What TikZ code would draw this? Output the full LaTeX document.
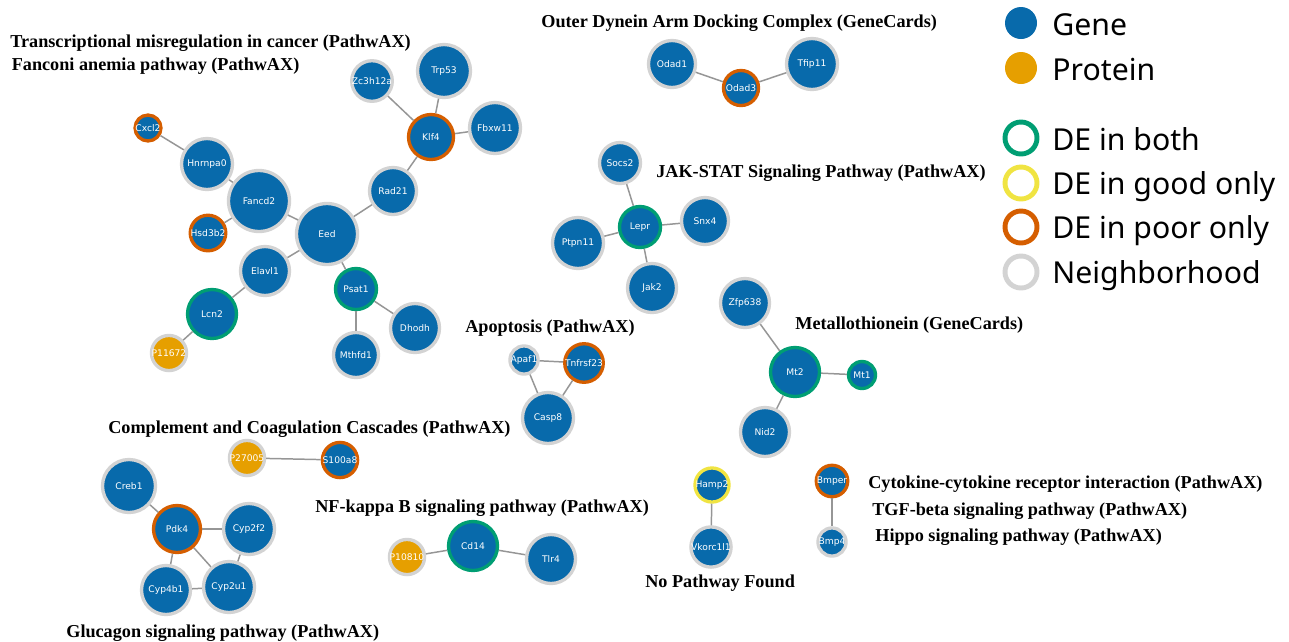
\documentclass[tikz,border=0pt]{standalone}
\usepackage{fontspec}
\setmainfont{Liberation Serif}
\newfontfamily\legendfont{Noto Sans}
\newfontfamily\genefont{DejaVu Sans}

\definecolor{geneblue}{RGB}{8,106,171}
\definecolor{protorange}{RGB}{230,159,0}
\definecolor{deboth}{RGB}{0,158,115}
\definecolor{degood}{RGB}{240,228,66}
\definecolor{depoor}{RGB}{213,94,0}
\definecolor{nbgrey}{RGB}{211,211,211}
\definecolor{edgegrey}{RGB}{150,150,150}

\tikzset{
    dia/.style={minimum size=#1*0.2mm},
    gn/.style={circle, fill=geneblue, text=white, inner sep=0pt, line width=1.9pt,
        font=\genefont\fontsize{5.2}{5.2}\selectfont},
    pr/.style={gn, fill=protorange},
    ringnb/.style={draw=nbgrey},
    ringboth/.style={draw=deboth},
    ringgood/.style={draw=degood},
    ringpoor/.style={draw=depoor},
    pathtitle/.style={anchor=base west, inner sep=0pt, font=\bfseries\fontsize{10.35}{12}\selectfont},
    legtext/.style={anchor=base west, inner sep=0pt, font=\legendfont\fontsize{17.2}{20}\selectfont},
}

\begin{document}
\begin{tikzpicture}[x=0.2mm, y=-0.2mm]
\useasboundingbox (0,0) rectangle (1289,641);

% pathway titles
\node[pathtitle] (t1) at (10,47.5) {Transcriptional misregulation in cancer (PathwAX)};
\node[pathtitle] (t2) at (11.5,70) {Fanconi anemia pathway (PathwAX)};
\node[pathtitle] (t3) at (541,27.5) {Outer Dynein Arm Docking Complex (GeneCards)};
\node[pathtitle] (t4) at (656,177) {JAK-STAT Signaling Pathway (PathwAX)};
\node[pathtitle] (t5) at (465,332) {Apoptosis (PathwAX)};
\node[pathtitle] (t6) at (795,329) {Metallothionein (GeneCards)};
\node[pathtitle] (t7) at (108,433) {Complement and Coagulation Cascades (PathwAX)};
\node[pathtitle] (t8) at (315,512) {NF-kappa B signaling pathway (PathwAX)};
\node[pathtitle] (t9) at (868,488) {Cytokine-cytokine receptor interaction (PathwAX)};
\node[pathtitle] (t10) at (872,515) {TGF-beta signaling pathway (PathwAX)};
\node[pathtitle] (t11) at (875,541.5) {Hippo signaling pathway (PathwAX)};
\node[pathtitle] (t12) at (645,587) {No Pathway Found};
\node[pathtitle] (t13) at (66,637) {Glucagon signaling pathway (PathwAX)};

\begin{scope}[every node/.append style={gn}]
    % fanconi / transcriptional misregulation
    \node[ringnb, dia=38] (zc3h12a) at (372,81) {Zc3h12a};
    \node[ringnb, dia=53] (trp53) at (444,71) {Trp53};
    \node[ringpoor, dia=45] (klf4) at (431,137) {Klf4};
    \node[ringnb, dia=51] (fbxw11) at (495,128) {Fbxw11};
    \node[ringnb, dia=47] (rad21) at (393,191) {Rad21};
    \node[ringnb, dia=61] (eed) at (327,234) {Eed};
    \node[ringnb, dia=61] (fancd2) at (259,201) {Fancd2};
    \node[ringnb, dia=51] (hnrnpa0) at (207,164) {Hnrnpa0};
    \node[ringpoor, dia=25] (cxcl2) at (148,128) {Cxcl2};
    \node[ringpoor, dia=25] (hsd3b2) at (208,233) {Hsd3b2};
    \node[ringnb, dia=49] (elavl1) at (265,271) {Elavl1};
    \node[ringboth, dia=49] (lcn2) at (212,314) {Lcn2};
    \node[pr, ringnb, dia=25] (p11672) at (169,353) {P11672};
    \node[ringboth, dia=41] (psat1) at (356,289) {Psat1};
    \node[ringnb, dia=49] (dhodh) at (415,328) {Dhodh};
    \node[ringnb, dia=45] (mthfd1) at (356,355) {Mthfd1};

    % dynein arm
    \node[ringnb, dia=47] (odad1) at (672,64) {Odad1};
    \node[ringpoor, dia=35] (odad3) at (741,88) {Odad3};
    \node[ringnb, dia=51] (tfip11) at (812,64) {Tfip11};

    % jak-stat
    \node[ringnb, dia=41] (socs2) at (620,163) {Socs2};
    \node[ringboth, dia=41] (lepr) at (640,227) {Lepr};
    \node[ringnb, dia=47] (snx4) at (705,221) {Snx4};
    \node[ringnb, dia=51] (ptpn11) at (578,243) {Ptpn11};
    \node[ringnb, dia=49] (jak2) at (652,288) {Jak2};

    % apoptosis
    \node[ringnb, dia=23] (apaf1) at (524,360) {Apaf1};
    \node[ringpoor, dia=26] (tnfrsf23) at (584,363) {Tnfrsf23};
    \node[ringnb, dia=51] (casp8) at (548,418) {Casp8};

    % metallothionein
    \node[ringnb, dia=49] (zfp638) at (745,303) {Zfp638};
    \node[ringboth, dia=49] (mt2) at (795,372) {Mt2};
    \node[ringboth, dia=27] (mt1) at (862,375) {Mt1};
    \node[ringnb, dia=49] (nid2) at (765,432) {Nid2};

    % complement
    \node[pr, ringnb, dia=24] (p27005) at (247,458) {P27005};
    \node[ringpoor, dia=25] (s100a8) at (340,460) {S100a8};

    % glucagon
    \node[ringnb, dia=53] (creb1) at (129,486) {Creb1};
    \node[ringpoor, dia=47] (pdk4) at (177,529) {Pdk4};
    \node[ringnb, dia=51] (cyp2f2) at (249,529) {Cyp2f2};
    \node[ringnb, dia=49] (cyp4b1) at (166,590) {Cyp4b1};
    \node[ringnb, dia=51] (cyp2u1) at (229,587) {Cyp2u1};

    % nf-kappa b
    \node[pr, ringnb, dia=23] (p10810) at (407,557) {P10810};
    \node[ringboth, dia=49] (cd14) at (473,546) {Cd14};
    \node[ringnb, dia=49] (tlr4) at (551,559) {Tlr4};

    % no pathway / cytokine
    \node[ringgood, dia=25] (hamp2) at (712,485) {Hamp2};
    \node[ringnb, dia=23] (vkorc1l1) at (711,547) {Vkorc1l1};
    \node[ringpoor, dia=25] (bmper) at (832,481) {Bmper};
    \node[ringnb, dia=23] (bmp4) at (832,542) {Bmp4};
\end{scope}

\foreach \from/\to in {zc3h12a/klf4, trp53/klf4, fbxw11/klf4, klf4/rad21, rad21/eed,
    eed/fancd2, fancd2/hnrnpa0, hnrnpa0/cxcl2, fancd2/hsd3b2, eed/elavl1, elavl1/lcn2,
    lcn2/p11672, eed/psat1, psat1/dhodh, psat1/mthfd1,
    odad1/odad3, odad3/tfip11,
    socs2/lepr, lepr/snx4, lepr/ptpn11, lepr/jak2,
    apaf1/tnfrsf23, apaf1/casp8, tnfrsf23/casp8,
    zfp638/mt2, mt2/mt1, mt2/nid2,
    p27005/s100a8,
    creb1/pdk4, pdk4/cyp2f2, pdk4/cyp4b1, pdk4/cyp2u1, cyp2f2/cyp2u1, cyp4b1/cyp2u1,
    p10810/cd14, cd14/tlr4,
    hamp2/vkorc1l1, bmper/bmp4}
    \draw[edgegrey, line width=0.85pt] (\from) -- (\to);

% legend
\begin{scope}[every node/.style={circle, inner sep=0pt, minimum size=32*0.2mm}]
    \node[fill=geneblue] (lgene) at (1021,23) {};
    \node[fill=protorange] (lprot) at (1021,68) {};
    \node[draw=deboth, line width=2.8pt] (lboth) at (1021,138) {};
    \node[draw=degood, line width=2.8pt] (lgood) at (1021,183) {};
    \node[draw=depoor, line width=2.8pt] (lpoor) at (1021,227) {};
    \node[draw=nbgrey, line width=2.8pt] (lnb) at (1021,272) {};
\end{scope}
\node[legtext] (lgenet) at (1052,35) {Gene};
\node[legtext] (lprott) at (1052,80) {Protein};
\node[legtext] (lbotht) at (1052,150) {DE in both};
\node[legtext] (lgoodt) at (1052,194) {DE in good only};
\node[legtext] (lpoort) at (1052,238) {DE in poor only};
\node[legtext] (lnbt) at (1052,283) {Neighborhood};
\end{tikzpicture}
\end{document}
